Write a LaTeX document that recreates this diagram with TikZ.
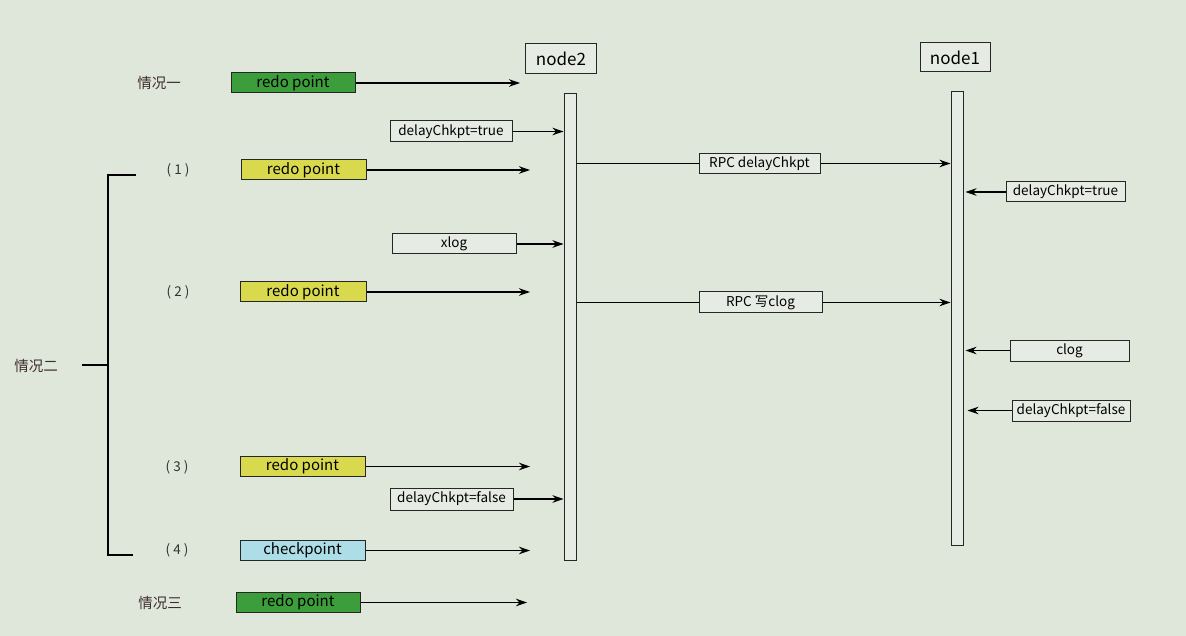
\documentclass[tikz,border=0pt]{standalone}
\usepackage{fontspec}
\setmainfont{Noto Sans CJK SC}
\usetikzlibrary{arrows.meta}
\definecolor{bgc}{HTML}{DFE7DB}
\definecolor{boxbg}{HTML}{E6ECE3}
\definecolor{grn}{HTML}{3C9E3A}
\definecolor{ylw}{HTML}{D9D94E}
\definecolor{cyn}{HTML}{ADDDE6}
\definecolor{lbl}{HTML}{3F2C2C}
\begin{document}
\begin{tikzpicture}[x=1pt,y=-1pt,
  box/.style={draw=black!85, line width=1pt, fill=boxbg, inner sep=0pt,
    minimum width=#1, minimum height=20pt, font=\fontsize{13.5}{15}\selectfont},
  box/.default=124,
  cbox/.style={box=#1, font=\fontsize{15}{16}\selectfont},
  cbox/.default=125,
  hdr/.style={draw=black!85, line width=1pt, fill=boxbg, inner sep=0pt,
    minimum width=71pt, minimum height=30pt, font=\fontsize{17}{19}\selectfont},
  life/.style={draw=black!85, line width=1pt, fill=boxbg, inner sep=0pt, minimum width=12pt},
  case/.style={text=lbl, font=\fontsize{14.5}{16}\selectfont, inner sep=0pt},
  num/.style={text=black!80, font=\fontsize{13.5}{15}\selectfont, inner sep=0pt},
  arr/.style={line width=1.2pt, -{Stealth[length=11pt,width=7.5pt]}},
  ln/.style={line width=1.2pt},
  brk/.style={line width=2pt}]
\useasboundingbox[fill=bgc] (0,0) rectangle (1186,636);

% headers and lifelines
\node[hdr] (node2) at (561,58.5) {node2};
\node[hdr, minimum width=70pt, minimum height=29pt] (node1) at (955,57.5) {node1};
\node[life, minimum height=466pt] (l2) at (570,327) {};
\node[life, minimum height=453pt] (l1) at (957,318.5) {};

% case labels
\node[case] (c1) at (159,83) {情况一};
\node[case] (c2) at (36,366) {情况二};
\node[case] (c3) at (160,603) {情况三};
\node[num] (n1) at (178,170) {( 1 )};
\node[num] (n2) at (178,292) {( 2 )};
\node[num] (n3) at (177,467) {( 3 )};
\node[num] (n4) at (177,550) {( 4 )};

% bracket
\coordinate (bt) at (136,175);
\coordinate (bb) at (133,555);
\coordinate (bm) at (82,365);
\draw[brk] (bt) -- (108,175) -- (108,555) -- (bb);
\draw[brk] (bm) -- (108,365);

% left boxes
\node[cbox=124, fill=grn] (g1) at (293,83) {redo point};
\node[box=122, minimum height=21pt] (d1) at (451,131.5) {delayChkpt=true};
\node[cbox=125, fill=ylw] (y1) at (303.5,170) {redo point};
\node[box=124] (x1) at (454,244) {xlog};
\node[cbox=126, fill=ylw] (y2) at (303,292) {redo point};
\node[cbox=125, fill=ylw] (y3) at (302.5,466.5) {redo point};
\node[box=123, minimum height=22pt] (d2) at (451.5,499) {delayChkpt=false};
\node[cbox=125, fill=cyn] (ck) at (302.5,550.5) {checkpoint};
\node[cbox=124, fill=grn] (g3) at (298,602.5) {redo point};

% free ends
\coordinate (e1) at (520,83);
\coordinate (e2) at (530,170);
\coordinate (e3) at (530,291);
\coordinate (e4) at (530,462);
\coordinate (e5) at (530,546);
\coordinate (e6) at (527,598);

\draw[arr] (g1.east) -- (g1.east -| e1);
\draw[arr] (y1.east) -- (y1.east -| e2);
\draw[arr] (y2.east) -- (y2.east -| e3);
\draw[arr] (y3.east) -- (y3.east -| e4);
\draw[arr] (ck.east) -- (ck.east -| e5);
\draw[arr] (g3.east) -- (g3.east -| e6);
\draw[arr] (d1.east) -- (d1.east -| l2.west);
\draw[arr] (x1.east) -- (x1.east -| l2.west);
\draw[arr] (d2.east) -- (d2.east -| l2.west);

% RPC messages
\node[box=121] (r1) at (759.5,163.5) {RPC delayChkpt};
\node[box=123, minimum height=21pt] (r2) at (760.5,302.5) {RPC 写clog};
\draw[ln] (r1.west -| l2.east) -- (r1.west);
\draw[arr] (r1.east) -- (r1.east -| l1.west);
\draw[ln] (r2.west -| l2.east) -- (r2.west);
\draw[arr] (r2.east) -- (r2.east -| l1.west);

% right boxes
\node[box=119] (d3) at (1065.5,192) {delayChkpt=true};
\node[box=119, minimum height=21pt] (cl) at (1069.5,350.5) {clog};
\node[box=118, minimum height=21pt] (d4) at (1071,410.5) {delayChkpt=false};
\draw[arr] (d3.west) -- ([xshift=2pt]d3.west -| l1.east);
\draw[arr] (cl.west) -- ([xshift=2pt]cl.west -| l1.east);
\draw[arr] (d4.west) -- ([xshift=4pt]d4.west -| l1.east);
\end{tikzpicture}
\end{document}
